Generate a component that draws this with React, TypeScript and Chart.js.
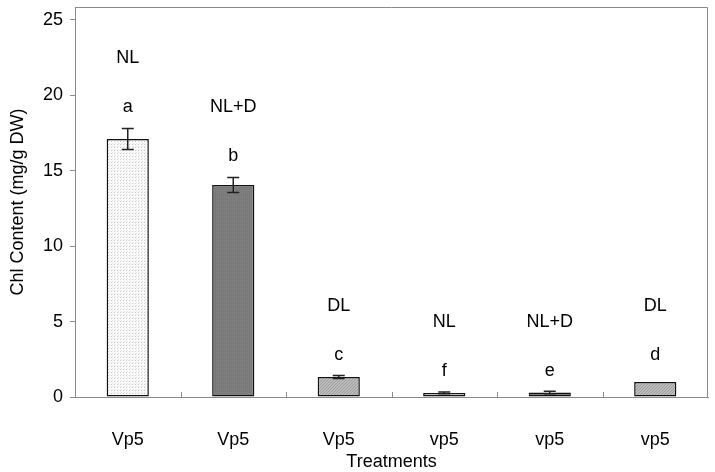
import React, { useEffect, useRef } from "react";
import { Chart, registerables } from "chart.js";

Chart.register(...registerables);

const categories = ["Vp5", "Vp5", "Vp5", "vp5", "vp5", "vp5"];
const treatments = ["NL", "NL+D", "DL", "NL", "NL+D", "DL"];
const values = [17.1, 14.05, 1.33, 0.27, 0.3, 0.99];
const errors = [0.7, 0.5, 0.1, 0.06, 0.08, 0];
const letters = ["a", "b", "c", "f", "e", "d"];
const letterAt = [19.23, 15.98, 2.78, 1.72, 1.72, 2.78];
const treatmentAt = [22.48, 19.23, 6.05, 4.97, 4.97, 6.05];
const yTicks = [0, 5, 10, 15, 20, 25];

const FONT = "'Liberation Sans', Arial, sans-serif";
const FS = 18;

function makePattern(kind: string): CanvasPattern | string {
  const c = document.createElement("canvas");
  const ctx = c.getContext("2d")!;
  if (kind === "dots") {
    c.width = 3;
    c.height = 3;
    ctx.fillStyle = "#fbfbfb";
    ctx.fillRect(0, 0, 3, 3);
    ctx.fillStyle = "#c8c8c8";
    ctx.fillRect(0, 0, 1, 1);
    ctx.fillStyle = "#e4e4e4";
    ctx.fillRect(1, 2, 1, 1);
  } else if (kind === "hatch") {
    c.width = 3;
    c.height = 3;
    ctx.fillStyle = "#bcbcbc";
    ctx.fillRect(0, 0, 3, 3);
    ctx.fillStyle = "#9c9c9c";
    for (let i = 0; i < 3; i++) ctx.fillRect(i, 2 - i, 1, 1);
  } else {
    c.width = 2;
    c.height = 2;
    ctx.fillStyle = "#7a7a7a";
    ctx.fillRect(0, 0, 2, 2);
    ctx.fillStyle = "#838383";
    ctx.fillRect(0, 0, 1, 1);
  }
  return ctx.createPattern(c, "repeat")!;
}

const fills = ["dots", "dark", "hatch", "dots", "dark", "hatch"];

const decorPlugin = {
  id: "decor",
  afterDatasetsDraw(chart: any) {
    const ctx = chart.ctx;
    const ys = chart.scales.y;
    const area = chart.chartArea;
    const meta = chart.getDatasetMeta(0);
    ctx.save();
    // box border (top & right)
    ctx.strokeStyle = "#8a8a8a";
    ctx.lineWidth = 1;
    ctx.beginPath();
    ctx.moveTo(Math.round(area.left) + 0.5, Math.round(area.top) + 0.5);
    ctx.lineTo(Math.round(area.right) - 0.5, Math.round(area.top) + 0.5);
    ctx.lineTo(Math.round(area.right) - 0.5, Math.round(area.bottom));
    ctx.stroke();
    // inside x tick marks between categories
    const n = categories.length;
    const step = (area.right - area.left) / n;
    ctx.beginPath();
    for (let i = 1; i < n; i++) {
      const x = Math.round(area.left + step * i) + 0.5;
      ctx.moveTo(x, area.bottom);
      ctx.lineTo(x, area.bottom - 5);
    }
    ctx.stroke();
    // error bars
    ctx.strokeStyle = "#222";
    ctx.lineWidth = 1.5;
    meta.data.forEach((bar: any, i: number) => {
      const e = errors[i];
      if (!e) return;
      const x = bar.x;
      const yTop = ys.getPixelForValue(values[i] + e);
      const yBot = ys.getPixelForValue(values[i] - e);
      ctx.beginPath();
      ctx.moveTo(x, yTop);
      ctx.lineTo(x, yBot);
      ctx.moveTo(x - 6, yTop);
      ctx.lineTo(x + 6, yTop);
      ctx.moveTo(x - 6, yBot);
      ctx.lineTo(x + 6, yBot);
      ctx.stroke();
    });
    // annotations
    ctx.fillStyle = "#000";
    ctx.font = `${FS}px ${FONT}`;
    ctx.textAlign = "center";
    ctx.textBaseline = "middle";
    meta.data.forEach((bar: any, i: number) => {
      ctx.fillText(letters[i], bar.x, ys.getPixelForValue(letterAt[i]));
      ctx.fillText(treatments[i], bar.x, ys.getPixelForValue(treatmentAt[i]));
    });
    // axis titles
    ctx.fillText("Treatments", (area.left + area.right) / 2, 462);
    ctx.translate(18, (area.top + area.bottom) / 2);
    ctx.rotate(-Math.PI / 2);
    ctx.fillText("Chl Content (mg/g DW)", 0, 0);
    ctx.restore();
  },
};

export default function App() {
  const ref = useRef<HTMLCanvasElement>(null);
  useEffect(() => {
    document.body.style.margin = "0";
    const chart = new Chart(ref.current!, {
      type: "bar",
      data: {
        labels: categories,
        datasets: [
          {
            data: values,
            backgroundColor: fills.map(makePattern) as any,
            borderColor: "#111",
            borderWidth: 1.5,
            borderSkipped: false,
            barPercentage: 0.4,
            categoryPercentage: 1,
          },
        ],
      },
      options: {
        responsive: false,
        animation: false,
        layout: { padding: { top: 7, right: 7, left: 0, bottom: 0 } },
        plugins: { legend: { display: false }, tooltip: { enabled: false } },
        scales: {
          x: {
            grid: { display: false, drawTicks: false },
            border: { color: "#8a8a8a", width: 1 },
            ticks: { color: "#000", font: { family: FONT, size: FS }, padding: 32 },
            afterFit: (s: any) => {
              s.height = 75;
              s.paddingLeft = 0;
              s.paddingRight = 0;
            },
          },
          y: {
            min: 0,
            max: 25.85,
            afterBuildTicks: (s: any) => {
              s.ticks = yTicks.map((v) => ({ value: v }));
            },
            grid: { drawOnChartArea: false, tickLength: 5, color: "#8a8a8a" },
            border: { color: "#8a8a8a", width: 1 },
            ticks: { color: "#000", font: { family: FONT, size: FS }, padding: 7 },
            afterFit: (s: any) => {
              s.width = 75;
              s.paddingTop = 0;
              s.paddingBottom = 0;
            },
          },
        },
      },
      plugins: [decorPlugin],
    });
    return () => chart.destroy();
  }, []);
  return <canvas ref={ref} width={715} height={472} style={{ display: "block" }} />;
}
